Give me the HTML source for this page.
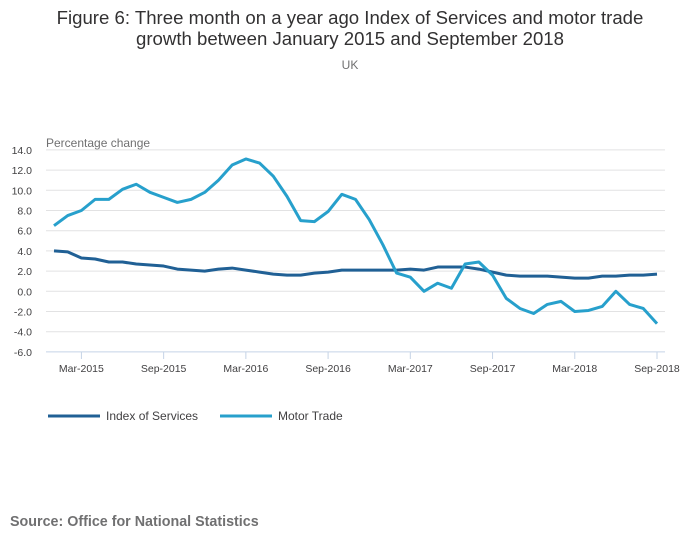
<!DOCTYPE html>
<html><head><meta charset="utf-8"><style>
body{margin:0;background:#fff;font-family:"Liberation Sans",sans-serif;}
</style></head><body>
<svg width="700" height="549" xmlns="http://www.w3.org/2000/svg" font-family="Liberation Sans, sans-serif">
<text x="350" y="24" text-anchor="middle" font-size="18.6" fill="#323132">Figure 6: Three month on a year ago Index of Services and motor trade</text>
<text x="350" y="45" text-anchor="middle" font-size="18.6" fill="#323132">growth between January 2015 and September 2018</text>
<text x="350" y="69" text-anchor="middle" font-size="12" fill="#707071">UK</text>
<text x="46" y="147" font-size="12" fill="#707071">Percentage change</text>
<g id="grid"></g><g id="ylab"></g><g id="xax"></g><g id="series"></g>
<g>
<line x1="48" y1="416" x2="100" y2="416" stroke="#206095" stroke-width="3"/>
<text x="106" y="420" font-size="12" fill="#414042">Index of Services</text>
<line x1="220" y1="416" x2="272" y2="416" stroke="#27a0cc" stroke-width="3"/>
<text x="278" y="420" font-size="12" fill="#414042">Motor Trade</text>
</g>
<text x="10" y="526" font-size="14.3" font-weight="bold" fill="#707071">Source: Office for National Statistics</text>
</svg>
<script>
const yTicks=[14,12,10,8,6,4,2,0,-2,-4,-6];
const xTickIdx=[2,8,14,20,26,32,38,44];
const xTickLabels=["Mar-2015","Sep-2015","Mar-2016","Sep-2016","Mar-2017","Sep-2017","Mar-2018","Sep-2018"];
const servicesValues=[4.0,3.9,3.3,3.2,2.9,2.9,2.7,2.6,2.5,2.2,2.1,2.0,2.2,2.3,2.1,1.9,1.7,1.6,1.6,1.8,1.9,2.1,2.1,2.1,2.1,2.1,2.2,2.1,2.4,2.4,2.4,2.2,1.9,1.6,1.5,1.5,1.5,1.4,1.3,1.3,1.5,1.5,1.6,1.6,1.7];
const motorValues=[6.5,7.5,8.0,9.1,9.1,10.1,10.6,9.8,9.3,8.8,9.1,9.8,11.0,12.5,13.1,12.7,11.4,9.4,7.0,6.9,7.9,9.6,9.1,7.1,4.6,1.8,1.4,0.0,0.8,0.3,2.7,2.9,1.6,-0.7,-1.7,-2.2,-1.3,-1.0,-2.0,-1.9,-1.5,0.0,-1.3,-1.7,-3.2];
const NS="http://www.w3.org/2000/svg";
const x=i=>54+i*(657-54)/44;
const y=v=>291.3-v*10.1;
function mk(t,a,p){const e=document.createElementNS(NS,t);for(const k in a)e.setAttribute(k,a[k]);document.getElementById(p).appendChild(e);return e;}
yTicks.forEach(v=>{
 const g=mk('line',{x1:46,x2:665,y1:y(v),y2:y(v),stroke:v===-6?'#c5d3e6':'#e2e2e3','stroke-width':1},'grid');
 
 
 const t=mk('text',{x:32,y:y(v)+4,'text-anchor':'end','font-size':10.5,fill:'#414042'},'ylab');
 t.textContent=v.toFixed(1);
 
 
});
xTickIdx.forEach((i,k)=>{
 const l=mk('line',{x1:x(i),x2:x(i),y1:352,y2:359,stroke:'#c5d3e6'},'xax');
 
 
 const t=mk('text',{x:x(i),y:372,'text-anchor':'middle','font-size':10.5,fill:'#414042'},'xax');
 t.textContent=xTickLabels[k];
 
 
});
function line(vals,col,name){
 const p=mk('polyline',{points:vals.map((v,i)=>x(i)+','+y(v)).join(' '),fill:'none',stroke:col,'stroke-width':3,'stroke-linejoin':'round'},'series');
 
 
}
line(servicesValues,'#206095','services-line');
line(motorValues,'#27a0cc','motor-trade-line');
</script>
</body></html>
